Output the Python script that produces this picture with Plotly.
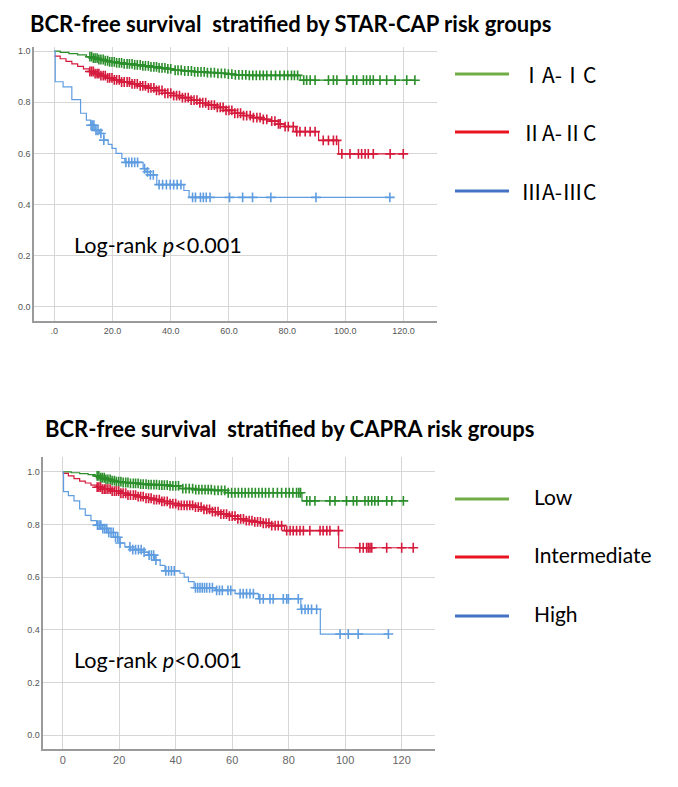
import numpy as np
import plotly.graph_objects as go

W, H = 678, 787

# ---------------- Top chart: STAR-CAP ----------------
star_green_t = [0, 2, 5, 8, 11, 13, 15, 17, 19, 21, 24, 27, 30, 33, 36, 39, 41, 44, 48, 52, 56, 59, 62, 66, 84.5]
star_green_s = [1.0, 0.995, 0.99, 0.985, 0.978, 0.972, 0.967, 0.962, 0.958, 0.954, 0.950, 0.946, 0.942, 0.938,
                0.934, 0.930, 0.925, 0.922, 0.919, 0.916, 0.913, 0.910, 0.907, 0.905, 0.886]
star_green_end = 123.9
star_green_cens = [12.2, 12.8, 13.4, 14.0, 14.7, 15.3, 16.0, 16.8, 17.5, 18.3, 19.0, 19.8, 20.6, 21.4, 22.3, 23.1,
                   24.0, 25.0, 25.8, 26.7, 27.6, 28.5, 29.5, 30.4, 31.3, 32.3, 33.2, 34.2, 35.1, 36.0, 37.0, 38.0,
                   39.0, 40.0, 41.5, 42.5, 43.6, 44.8, 46.0, 47.1, 48.2, 49.3, 50.4, 51.5, 52.6, 53.8, 55.0, 56.2,
                   57.4, 58.6, 59.8, 61.0, 62.2, 63.4, 64.6, 65.8, 67.0, 68.2, 69.4, 70.6, 71.8, 73.0, 74.5, 76.0,
                   77.5, 79.0, 80.2, 81.5, 82.5, 83.6, 85.7, 86.7, 87.9, 89.6, 94.2, 95.9, 97.1, 100.5, 102.7,
                   103.9, 106.2, 107.3, 108.5, 109.6, 111.9, 114.2, 117.1, 121.1, 123.9]

star_red_t = [0, 2, 4, 6, 8, 10, 12, 14, 16, 18, 20, 23, 26, 29, 32, 35, 38, 41, 44, 47, 50, 53, 56, 59, 62, 65,
              68, 71, 74, 77, 79, 83, 90.8, 97.7]
star_red_s = [0.98, 0.97, 0.96, 0.95, 0.94, 0.93, 0.92, 0.912, 0.904, 0.895, 0.887, 0.879, 0.872, 0.864, 0.856,
              0.846, 0.835, 0.826, 0.818, 0.808, 0.798, 0.789, 0.780, 0.768, 0.757, 0.748, 0.740, 0.733, 0.726,
              0.715, 0.705, 0.685, 0.651, 0.598]
star_red_end = 119.9
star_red_cens = [12.2, 12.8, 13.4, 14.0, 14.7, 15.3, 16.0, 16.8, 17.5, 18.3, 19.0, 19.8, 20.6, 21.4, 22.3, 23.1,
                 24.0, 25.0, 25.8, 26.7, 27.6, 28.5, 29.5, 30.4, 31.3, 32.3, 33.2, 34.2, 35.1, 36.0, 37.0, 38.0,
                 39.0, 40.0, 41.0, 42.0, 43.0, 44.0, 45.0, 46.0, 47.0, 48.0, 49.0, 50.0, 51.0, 52.0, 53.0, 54.0,
                 55.0, 56.0, 57.0, 58.0, 59.0, 60.0, 61.0, 62.0, 63.0, 64.0, 65.0, 66.1, 67.3, 68.4, 69.6, 70.7,
                 71.8, 73.0, 74.7, 75.8, 77.0, 77.6, 79.3, 80.4, 82.1, 83.3, 84.4, 86.2, 87.9, 89.6, 92.4, 94.2,
                 95.9, 97.0, 98.8, 101.6, 104.5, 105.6, 106.8, 107.9, 109.6, 115.4, 119.9]

star_blue_t = [0, 0.3, 3, 6, 9, 11, 12.5, 14, 15.5, 17, 18.5, 19.8, 21.2, 23.2, 24.2, 30.5, 31.5, 33, 35.2, 44.5, 46.3]
star_blue_s = [1.0, 0.88, 0.86, 0.81, 0.757, 0.73, 0.71, 0.69, 0.678, 0.652, 0.635, 0.62, 0.60, 0.58, 0.565, 0.54,
               0.528, 0.516, 0.478, 0.455, 0.428]
star_blue_end = 115.3
star_blue_cens = [12.6, 13.1, 13.6, 14.3, 15.0, 16.0, 17.0, 24.6, 25.6, 26.6, 27.6, 28.6, 31.0, 32.0, 33.0, 34.0,
                  36.0, 37.2, 38.5, 39.8, 41.0, 42.2, 43.5, 47.5, 48.5, 50.2, 51.2, 52.2, 53.5, 60.2, 64.7, 68.1,
                  74.4, 89.9, 115.3]

# ---------------- Bottom chart: CAPRA ----------------
capra_green_t = [0, 3, 6, 9, 11.5, 13, 15, 17, 19, 21, 24, 27, 30, 34, 38, 41.5, 47, 53, 58.5, 84.7]
capra_green_s = [1.0, 0.997, 0.994, 0.99, 0.985, 0.978, 0.972, 0.967, 0.963, 0.960, 0.957, 0.954, 0.952, 0.950,
                 0.947, 0.937, 0.933, 0.930, 0.921, 0.890]
capra_green_end = 120.6
capra_green_cens = [12.2, 12.8, 13.4, 14.0, 14.7, 15.3, 16.0, 16.8, 17.5, 18.3, 19.0, 19.8, 20.6, 21.4, 22.3,
                    23.1, 24.0, 25.0, 25.8, 26.7, 27.6, 28.5, 29.5, 30.4, 31.3, 32.3, 33.2, 34.2, 35.1, 36.0,
                    37.0, 38.0, 39.0, 40.0, 41.0, 42.5, 43.6, 44.8, 46.0, 47.1, 48.2, 49.3, 50.4, 51.5, 52.6,
                    53.8, 55.0, 56.2, 57.4, 58.6, 59.8, 61.0, 62.2, 63.4, 64.6, 65.8, 67.0, 68.2, 69.4, 70.6,
                    71.8, 73.0, 74.5, 76.0, 77.5, 79.0, 80.2, 81.5, 82.8, 83.6, 84.2, 86.4, 87.5, 89.3, 94.6,
                    96.4, 100.5, 102.9, 104.1, 107.0, 108.2, 109.4, 110.5, 111.7, 114.7, 116.5, 120.6]

capra_red_t = [0, 2, 4, 6, 8, 10, 12, 14, 17, 20, 23, 26, 29, 32, 35, 38, 41, 47, 50, 53, 56, 59, 62, 65, 68, 71,
               74, 78.5, 97.7]
capra_red_s = [0.995, 0.985, 0.975, 0.965, 0.958, 0.950, 0.942, 0.935, 0.927, 0.919, 0.912, 0.906, 0.900, 0.895,
               0.888, 0.880, 0.873, 0.866, 0.858, 0.849, 0.840, 0.832, 0.822, 0.815, 0.810, 0.805, 0.796, 0.777,
               0.712]
capra_red_end = 124.1
capra_red_cens = [12.2, 12.8, 13.4, 14.0, 14.7, 15.3, 16.0, 16.8, 17.5, 18.3, 19.0, 19.8, 20.6, 21.4, 22.3,
                  23.1, 24.0, 25.0, 25.8, 26.7, 27.6, 28.5, 29.5, 30.4, 31.3, 32.3, 33.2, 34.2, 35.1, 36.0,
                  37.0, 38.0, 39.0, 40.0, 41.0, 42.0, 43.0, 44.0, 45.0, 46.0, 47.0, 48.0, 49.0, 50.0, 51.0,
                  52.0, 53.0, 54.0, 55.0, 56.0, 57.0, 58.0, 59.0, 60.0, 61.0, 62.0, 63.0, 64.0, 65.0, 66.0,
                  67.0, 68.0, 69.0, 70.0, 71.0, 72.0, 73.0, 74.0, 75.2, 76.3, 77.5, 79.3, 80.5, 81.6, 82.8,
                  84.0, 85.2, 87.5, 91.1, 92.2, 93.5, 94.6, 97.6, 105.2, 106.4, 107.6, 108.2, 108.8, 109.4,
                  114.7, 120.0, 124.1]

capra_blue_t = [0, 0.3, 2, 4, 6, 8, 10, 12, 14, 16, 18, 20, 22, 24, 28.5, 30.3, 32.5, 34.5, 36.2, 41.5, 43, 44.5,
                46.5, 54, 61, 69.3, 84.3, 91.2]
capra_blue_s = [1.0, 0.925, 0.91, 0.89, 0.86, 0.835, 0.815, 0.798, 0.785, 0.77, 0.752, 0.73, 0.715, 0.705, 0.695,
                0.684, 0.665, 0.645, 0.624, 0.615, 0.600, 0.583, 0.560, 0.550, 0.538, 0.518, 0.478, 0.384]
capra_blue_end = 115.3
capra_blue_cens = [12.3, 12.9, 13.5, 14.2, 14.9, 15.6, 16.3, 17.1, 17.9, 18.7, 19.5, 20.3, 23.8, 24.8, 25.8,
                   26.8, 27.8, 28.8, 30.6, 31.4, 32.2, 33.0, 36.5, 37.5, 38.5, 39.5, 47.0, 47.8, 48.6, 49.4,
                   50.2, 51.0, 52.0, 53.0, 54.5, 55.5, 56.5, 58.5, 59.5, 62.8, 63.9, 65.1, 66.3, 67.5, 69.8,
                   71.0, 73.4, 74.5, 78.1, 79.3, 79.9, 83.4, 84.6, 85.8, 86.9, 88.1, 89.9, 98.2, 101.1, 104.6,
                   115.3]

# ---------------- Text ----------------
title_top = "BCR-free survival  stratified by STAR-CAP risk groups"
title_bottom = "BCR-free survival  stratified by CAPRA risk groups"
legend_top = ["ⅠA-ⅠC", "ⅡA-ⅡC", "ⅢA-ⅢC"]
legend_bottom = ["Low", "Intermediate", "High"]
logrank_text = "Log-rank <i>p</i>&lt;0.001"
y_ticks = [0.0, 0.2, 0.4, 0.6, 0.8, 1.0]
y_ticktext = ["0.0", "0.2", "0.4", "0.6", "0.8", "1.0"]
x_ticks = [0, 20, 40, 60, 80, 100, 120]
x_ticktext_top = [".0", "20.0", "40.0", "60.0", "80.0", "100.0", "120.0"]
x_ticktext_bottom = ["0", "20", "40", "60", "80", "100", "120"]

# ---------------- Styles ----------------
C_GREEN, C_RED, C_BLUE = "#2b8f2b", "#d51a3c", "#5f9de0"
LEG_GREEN, LEG_RED, LEG_BLUE = "#70ad47", "#ea1320", "#4472c4"
CAL = "Lato, 'Open Sans', sans-serif"


def step_value(times, surv, t):
    idx = np.searchsorted(np.asarray(times), t, side="right") - 1
    return np.asarray(surv)[idx]


fig = go.Figure()


def add_curve(times, surv, end, cens, color, xa, ya):
    xs = list(times) + [end]
    ys = list(surv) + [surv[-1]]
    fig.add_trace(go.Scatter(x=xs, y=ys, mode="lines", line=dict(color=color, width=1.2, shape="hv"),
                             xaxis=xa, yaxis=ya, showlegend=False, hoverinfo="skip"))
    cy = [float(step_value(times, surv, c)) for c in cens]
    fig.add_trace(go.Scatter(x=cens, y=cy, mode="markers",
                             marker=dict(symbol="cross-thin", size=7, line=dict(width=1.6, color=color)),
                             xaxis=xa, yaxis=ya, showlegend=False, hoverinfo="skip"))


add_curve(star_green_t, star_green_s, star_green_end, star_green_cens, C_GREEN, "x", "y")
add_curve(star_red_t, star_red_s, star_red_end, star_red_cens, C_RED, "x", "y")
add_curve(star_blue_t, star_blue_s, star_blue_end, star_blue_cens, C_BLUE, "x", "y")
add_curve(capra_green_t, capra_green_s, capra_green_end, capra_green_cens, C_GREEN, "x2", "y2")
add_curve(capra_red_t, capra_red_s, capra_red_end, capra_red_cens, C_RED, "x2", "y2")
add_curve(capra_blue_t, capra_blue_s, capra_blue_end, capra_blue_cens, C_BLUE, "x2", "y2")


def px_x(p):
    return p / W


def px_y(p):
    return 1 - p / H


axis_common = dict(showgrid=True, gridcolor="#d6d6d6", gridwidth=1, zeroline=False, showline=True,
                   linecolor="#9a9a9a", linewidth=1.5, ticks="", fixedrange=True)

fig.update_layout(
    width=W, height=H, margin=dict(l=0, r=0, t=0, b=0),
    paper_bgcolor="white", plot_bgcolor="white",
    xaxis=dict(domain=[px_x(34), px_x(437)], range=[-7.0, 131.5], anchor="y",
               tickvals=x_ticks, ticktext=x_ticktext_top,
               tickfont=dict(family="Liberation Sans, Arial", size=9, color="#555"), **axis_common),
    yaxis=dict(domain=[px_y(321), px_y(46.7)], range=[-0.055, 1.017], anchor="x",
               tickvals=y_ticks, ticktext=y_ticktext,
               tickfont=dict(family="Liberation Sans, Arial", size=9, color="#555"), **axis_common),
    xaxis2=dict(domain=[px_x(43.3), px_x(435)], range=[-6.87, 131.8], anchor="y2",
                tickvals=x_ticks, ticktext=x_ticktext_bottom,
                tickfont=dict(family="Liberation Sans, Arial", size=11, color="#666"), **axis_common),
    yaxis2=dict(domain=[px_y(749.3), px_y(456.7)], range=[-0.054, 1.058], anchor="x2",
                tickvals=y_ticks, ticktext=y_ticktext,
                tickfont=dict(family="Liberation Sans, Arial", size=9, color="#555"), **axis_common),
)

ann = []
ann.append(dict(text=f"<b>{title_top}</b>", x=px_x(28), y=px_y(23), xref="paper", yref="paper",
                xanchor="left", yanchor="middle", showarrow=False,
                font=dict(family=CAL, size=22, color="black")))
ann.append(dict(text=f"<b>{title_bottom}</b>", x=px_x(43), y=px_y(428), xref="paper", yref="paper",
                xanchor="left", yanchor="middle", showarrow=False,
                font=dict(family=CAL, size=22, color="black")))
ann.append(dict(text=logrank_text, x=px_x(72), y=px_y(245), xref="paper", yref="paper",
                xanchor="left", yanchor="middle", showarrow=False,
                font=dict(family=CAL, size=21.6, color="black")))
ann.append(dict(text=logrank_text, x=px_x(72), y=px_y(660), xref="paper", yref="paper",
                xanchor="left", yanchor="middle", showarrow=False,
                font=dict(family=CAL, size=21.6, color="black")))

shapes = []
leg_cols = [LEG_GREEN, LEG_RED, LEG_BLUE]
top_leg_y = [74, 132, 191]
bot_leg_y = [499, 557, 616]
for i in range(3):
    shapes.append(dict(type="line", xref="paper", yref="paper", x0=px_x(455), x1=px_x(509),
                       y0=px_y(top_leg_y[i]), y1=px_y(top_leg_y[i]), line=dict(color=leg_cols[i], width=3)))
    ann.append(dict(text=legend_top[i], x=px_x(519), y=px_y(top_leg_y[i]), xref="paper", yref="paper",
                    xanchor="left", yanchor="middle", showarrow=False,
                    font=dict(family="'Noto Sans CJK SC', Lato, sans-serif", size=21, color="black")))
    shapes.append(dict(type="line", xref="paper", yref="paper", x0=px_x(455), x1=px_x(509),
                       y0=px_y(bot_leg_y[i]), y1=px_y(bot_leg_y[i]), line=dict(color=leg_cols[i], width=3)))
    ann.append(dict(text=legend_bottom[i], x=px_x(532), y=px_y(bot_leg_y[i] - 3), xref="paper", yref="paper",
                    xanchor="left", yanchor="middle", showarrow=False,
                    font=dict(family=CAL, size=21, color="black")))

fig.update_layout(annotations=ann, shapes=shapes)
fig.write_html("out.html")
